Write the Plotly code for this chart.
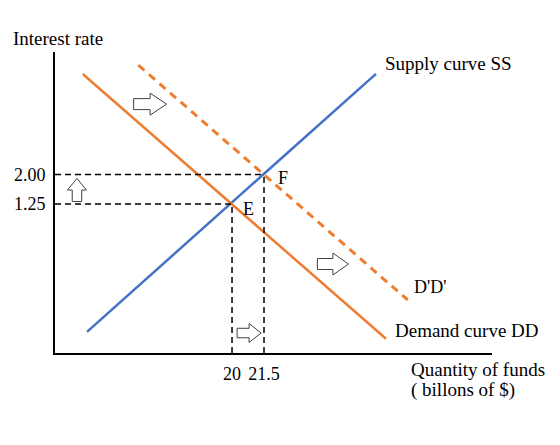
import plotly.graph_objects as go

# ---- data (schematic loanable-funds diagram) ----
x_ticks = [20, 21.5]
x_tick_text = ["20", "21.5"]
y_ticks = [1.25, 2.00]
y_tick_text = ["1.25", "2.00"]

supply_x = [13.2, 26.75]
supply_y = [-2.0, 4.56]
demand_x = [13.0, 27.22]
demand_y = [4.555, -2.175]
demand2_x = [15.61, 28.24]
demand2_y = [4.78, -1.19]

eq_E = (20, 1.25)
eq_F = (21.5, 2.00)

X0, X1 = 11.70, 32.19
Y0, Y1 = -2.538, 5.115

BLUE = "#4472C4"
ORANGE = "#ED7D31"
FONT = "Liberation Serif"

fig = go.Figure()
fig.add_trace(go.Scatter(x=supply_x, y=supply_y, mode="lines",
                         line=dict(color=BLUE, width=2.5), hoverinfo="skip"))
fig.add_trace(go.Scatter(x=demand_x, y=demand_y, mode="lines",
                         line=dict(color=ORANGE, width=2.5), hoverinfo="skip"))
fig.add_trace(go.Scatter(x=demand2_x, y=demand2_y, mode="lines",
                         line=dict(color=ORANGE, width=3, dash="8px,6px"), hoverinfo="skip"))

# dashed guide lines
for (ex, ey) in [eq_E, eq_F]:
    fig.add_trace(go.Scatter(x=[X0, ex], y=[ey, ey], mode="lines",
                             line=dict(color="black", width=1.5, dash="6px,4px"), hoverinfo="skip"))
    fig.add_trace(go.Scatter(x=[ex, ex], y=[Y0, ey], mode="lines",
                             line=dict(color="black", width=1.5, dash="6px,4px"), hoverinfo="skip"))

# hollow block arrows (anchored in data coords, geometry in pixels)
def right_arrow(w, h):
    sw, sh = w / 2, h / 4
    hw = h / 2
    return (f"M {-sw},{-sh} L 0,{-sh} L 0,{-hw} L {sw},0 L 0,{hw} L 0,{sh} L {-sw},{sh} Z")

def up_arrow(w, h):
    sh, sw = h / 2, w / 4
    hw = w / 2
    return (f"M {-sw},{-sh} L {-sw},0 L {-hw},0 L 0,{sh} L {hw},0 L {sw},0 L {sw},{-sh} Z")

arrows = [
    (16.16, 3.79, right_arrow(33, 22)),
    (24.73, -0.276, right_arrow(31, 22)),
    (20.80, -2.03, right_arrow(24, 19)),
    (12.73, 1.606, up_arrow(19, 23)),
]
for ax_, ay_, path in arrows:
    fig.add_shape(type="path", xref="x", yref="y", xsizemode="pixel", ysizemode="pixel",
                  xanchor=ax_, yanchor=ay_, path=path,
                  fillcolor="white", line=dict(color="#404040", width=1))

# labels inside the plot area (data coords)
labels = [
    ("Supply curve SS", 27.08, 4.835, 19),
    ("D'D'", 28.44, -0.848, 18),
    ("Demand curve DD", 27.55, -1.954, 19),
]
for txt, x, y, s in labels:
    fig.add_annotation(text=txt, x=x, y=y, xref="x", yref="y", xanchor="left", yanchor="middle",
                       showarrow=False, font=dict(family=FONT, size=s, color="black"))

# axis titles outside the plot area (paper coords)
outer = [
    ("Interest rate", -0.1007, 1.0465),
    ("Quantity of funds", 0.810, -0.0548),
    ("( billons of $)", 0.810, -0.1229),
]
for txt, x, y in outer:
    fig.add_annotation(text=txt, x=x, y=y, xref="paper", yref="paper", xanchor="left",
                       yanchor="middle", showarrow=False,
                       font=dict(family=FONT, size=19, color="black"))

for txt, x, y in [("E", 20.75, 1.123), ("F", 22.39, 1.911)]:
    fig.add_annotation(text=txt, x=x, y=y, xref="x", yref="y", xanchor="center", yanchor="middle",
                       showarrow=False, font=dict(family=FONT, size=18, color="black"))

fig.update_layout(
    width=560, height=445,
    margin=dict(l=55, r=68, t=52, b=92),
    paper_bgcolor="white", plot_bgcolor="white",
    showlegend=False,
    font=dict(family=FONT, size=18, color="black"),
    xaxis=dict(range=[X0, X1], showgrid=False, zeroline=False, showline=True,
               linecolor="black", linewidth=2, tickvals=x_ticks, ticktext=x_tick_text,
               ticks="", ticklabelstandoff=3, fixedrange=True),
    yaxis=dict(range=[Y0, Y1], showgrid=False, zeroline=False, showline=True,
               linecolor="black", linewidth=2, tickvals=y_ticks, ticktext=y_tick_text,
               ticks="", ticklabelstandoff=4, fixedrange=True),
)

fig.write_html("out.html")
